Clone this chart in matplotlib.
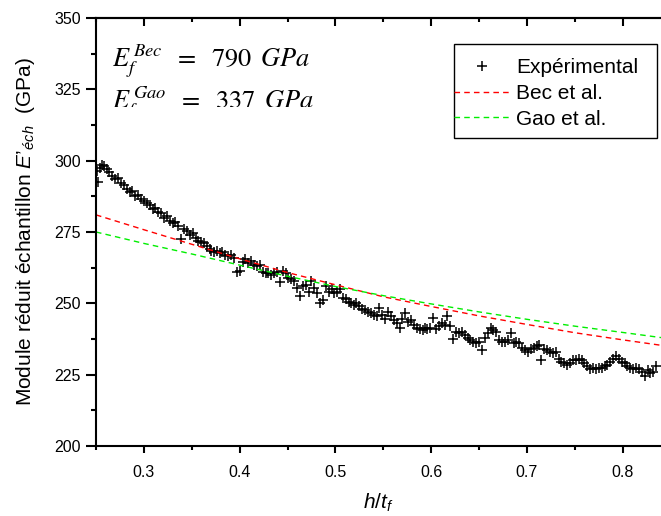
import matplotlib
matplotlib.use("Agg")
import matplotlib.pyplot as plt
from matplotlib.patches import Rectangle
from matplotlib.ticker import MultipleLocator
from matplotlib.transforms import Bbox, TransformedBbox

plt.rcParams["font.family"] = ["Liberation Sans", "DejaVu Sans"]
plt.rcParams["mathtext.fontset"] = "custom"
plt.rcParams["mathtext.rm"] = "Liberation Sans"
plt.rcParams["mathtext.it"] = "Liberation Sans:italic"

h_exp = [
    0.251, 0.252, 0.254, 0.256, 0.258, 0.261, 0.264, 0.267, 0.270, 0.273,
    0.276, 0.279, 0.282, 0.285, 0.288, 0.291, 0.294, 0.297, 0.300, 0.303,
    0.306, 0.309, 0.312, 0.315, 0.318, 0.321, 0.324, 0.327, 0.330, 0.333,
    0.336, 0.339, 0.342, 0.345, 0.348, 0.351, 0.354, 0.357, 0.360, 0.363,
    0.366, 0.369,
    0.370, 0.373, 0.376, 0.379, 0.382, 0.385, 0.388, 0.391, 0.394, 0.397,
    0.400, 0.403, 0.406, 0.409, 0.412, 0.415, 0.418, 0.421, 0.424, 0.427,
    0.430, 0.433, 0.436, 0.439, 0.442, 0.445, 0.448, 0.451, 0.454, 0.457,
    0.460, 0.463, 0.466, 0.469, 0.472, 0.475, 0.478, 0.481, 0.484, 0.487,
    0.490, 0.493, 0.496, 0.499, 0.502, 0.505, 0.508, 0.511, 0.514,
    0.516, 0.519, 0.522, 0.525, 0.528, 0.531, 0.534, 0.537, 0.540, 0.543,
    0.546, 0.549, 0.552, 0.555, 0.558, 0.561, 0.564, 0.567, 0.570, 0.573,
    0.576, 0.579, 0.582, 0.585, 0.588, 0.591, 0.594,
    0.596, 0.599, 0.602, 0.605, 0.608, 0.611, 0.614, 0.617, 0.620, 0.623,
    0.626, 0.629, 0.632, 0.635, 0.638, 0.641, 0.644, 0.647, 0.650, 0.653,
    0.656, 0.659, 0.662, 0.665, 0.668, 0.671, 0.674, 0.677, 0.680, 0.683,
    0.686, 0.689, 0.692, 0.695, 0.698, 0.701, 0.704, 0.707, 0.710, 0.713,
    0.715, 0.718, 0.721, 0.724, 0.727, 0.730, 0.733, 0.736, 0.739, 0.742,
    0.745, 0.748, 0.751, 0.754, 0.757, 0.760, 0.763, 0.766, 0.769, 0.772,
    0.775, 0.778, 0.781, 0.784, 0.787, 0.790, 0.793, 0.796, 0.799, 0.802,
    0.805, 0.808, 0.811, 0.814, 0.817, 0.820, 0.823, 0.826, 0.829, 0.832,
    0.835,
]
e_exp = [
    296.5, 292.5, 297.5, 298.5, 298.0, 297.0, 296.0, 294.5, 293.5, 294.0,
    292.0, 291.5, 290.0, 289.0, 289.5, 287.5, 288.0, 286.5, 286.0, 285.0,
    284.5, 283.0, 283.5, 282.0, 281.5, 280.0, 280.5, 279.0, 278.0, 278.5,
    277.0, 272.5, 276.0, 275.5, 274.0, 274.5, 273.0, 272.0, 271.5, 271.0,
    270.0, 269.0,
    268.5, 268.0, 268.5, 267.5, 268.0, 267.0, 266.5, 267.0, 266.0, 261.0,
    261.5, 264.5, 265.5, 264.0, 265.0, 263.5, 263.0, 263.5, 261.0, 260.5,
    260.5, 260.0, 260.5, 261.0, 257.5, 261.5, 260.5, 259.0, 258.5, 258.0,
    255.5, 252.5, 256.0, 256.5, 254.0, 258.0, 255.5, 253.5, 250.0, 251.0,
    256.0, 254.0, 255.0, 253.5, 254.0, 255.0, 252.0, 251.5, 250.5,
    250.0, 249.5, 250.0, 249.0, 248.0, 247.5, 247.0, 246.5, 246.0, 245.5,
    248.5, 246.0, 244.5, 247.0, 245.5, 244.0, 243.0, 241.5, 244.5, 246.5,
    243.5, 244.0, 242.5, 241.5, 241.0, 240.5, 241.5,
    241.0, 241.5, 245.0, 241.0, 242.0, 243.0, 242.5, 245.5, 242.0, 237.5,
    240.0, 239.5, 240.0, 239.0, 238.0, 237.0, 236.5, 236.0, 236.5, 233.5,
    238.0, 239.5, 241.5, 240.5, 240.0, 237.0, 236.5, 236.5, 237.0, 239.5,
    236.0, 236.5, 236.0, 234.5, 233.5, 233.0, 234.0, 234.5, 235.0, 235.5,
    230.0, 234.0, 233.5, 233.0, 232.5, 233.0, 230.5, 229.5, 229.0, 228.5,
    229.0, 230.0, 230.0, 230.5, 230.0, 229.0, 228.0, 227.0, 227.5, 227.0,
    227.5, 227.5, 228.0, 228.5, 229.5, 230.5, 231.5, 230.5, 229.5, 229.0,
    228.0, 227.5, 227.0, 227.5, 227.0, 226.0, 224.5, 226.5, 225.5, 226.0,
    228.0,
]

# model curves
h_model = [0.25, 0.30, 0.35, 0.40, 0.45, 0.50, 0.55, 0.60, 0.65, 0.70, 0.75, 0.80, 0.84]
e_bec = [281.0, 275.8, 270.7, 265.6, 260.8, 256.5, 252.3, 248.9, 245.6, 242.6, 239.7, 237.2, 235.3]
e_gao = [275.0, 271.0, 267.3, 263.4, 259.5, 255.9, 252.7, 249.8, 247.0, 244.4, 242.0, 239.8, 238.0]

fig = plt.figure(figsize=(6.61, 5.16), dpi=100)
ax = fig.add_axes([96 / 661, 70 / 516, 565 / 661, 428 / 516])

ax.plot(h_exp, e_exp, linestyle="none", marker="+", color="black",
        markersize=7.5, markeredgewidth=1.1, label="Expérimental")
ax.plot(h_model, e_bec, color="#ff0000", linewidth=1.0, dashes=(4, 3), label="Bec et al.")
ax.plot(h_model, e_gao, color="#00ee00", linewidth=1.0, dashes=(4, 3), label="Gao et al.")

ax.set_xlim(0.25, 0.84)
ax.set_ylim(200, 350)
ax.xaxis.set_major_locator(MultipleLocator(0.1))
ax.xaxis.set_minor_locator(MultipleLocator(0.05))
ax.yaxis.set_major_locator(MultipleLocator(25))
ax.yaxis.set_minor_locator(MultipleLocator(12.5))

for side in ["left", "bottom", "top"]:
    ax.spines[side].set_linewidth(1.5)
ax.spines["right"].set_visible(False)

ax.tick_params(axis="y", which="major", direction="out", length=7, width=1.5,
               labelsize=11.5, pad=4)
ax.tick_params(axis="y", which="minor", direction="out", length=3.5, width=1.5)
ax.tick_params(axis="x", which="major", direction="out", length=5, width=1.5,
               labelsize=11.5, pad=9)
ax.tick_params(axis="x", which="minor", direction="out", length=3, width=1.5)

top = ax.secondary_xaxis("top")
top.xaxis.set_major_locator(MultipleLocator(0.1))
top.xaxis.set_minor_locator(MultipleLocator(0.05))
top.tick_params(which="major", direction="in", length=6, width=1.5, labeltop=False)
top.tick_params(which="minor", direction="in", length=3, width=1.5)
top.spines["top"].set_linewidth(1.5)

ax.set_xlabel("$h/t_f$", fontsize=15, labelpad=8)
ax.set_ylabel("Module réduit échantillon $E’_{éch}$  (GPa)", fontsize=15, labelpad=12)

# second line of the annotation is cut in the original
clip = TransformedBbox(Bbox.from_extents(0, (516 - 106.5) / 516, 1, 1), fig.transFigure)
for ypos, txt in [(0.8855, r"$E_f^{\,Bec}\ \;=\ \;790\ \,GPa$"),
                  (0.787, r"$E_f^{\,Gao}\ \;=\ \;337\ \,GPa$")]:
    t = ax.text(0.028, ypos, txt, transform=ax.transAxes, fontsize=19,
                math_fontfamily="stix", va="baseline", clip_on=True)
    t.set_clip_box(clip)

# legend frame drawn separately: the handles touch its left edge
ax.add_patch(Rectangle((0.6336, 0.7196), 0.3594, 0.2197, transform=ax.transAxes,
                       facecolor="white", edgecolor="black", linewidth=1.0, zorder=4))
leg = ax.legend(loc="upper left", bbox_to_anchor=(0.616, 0.930), fontsize=15,
                frameon=False, borderpad=0.48, borderaxespad=0, handlelength=2.7,
                handletextpad=0.27, labelspacing=0.33)
leg.set_zorder(5)

fig.savefig("out.png", dpi=100)
